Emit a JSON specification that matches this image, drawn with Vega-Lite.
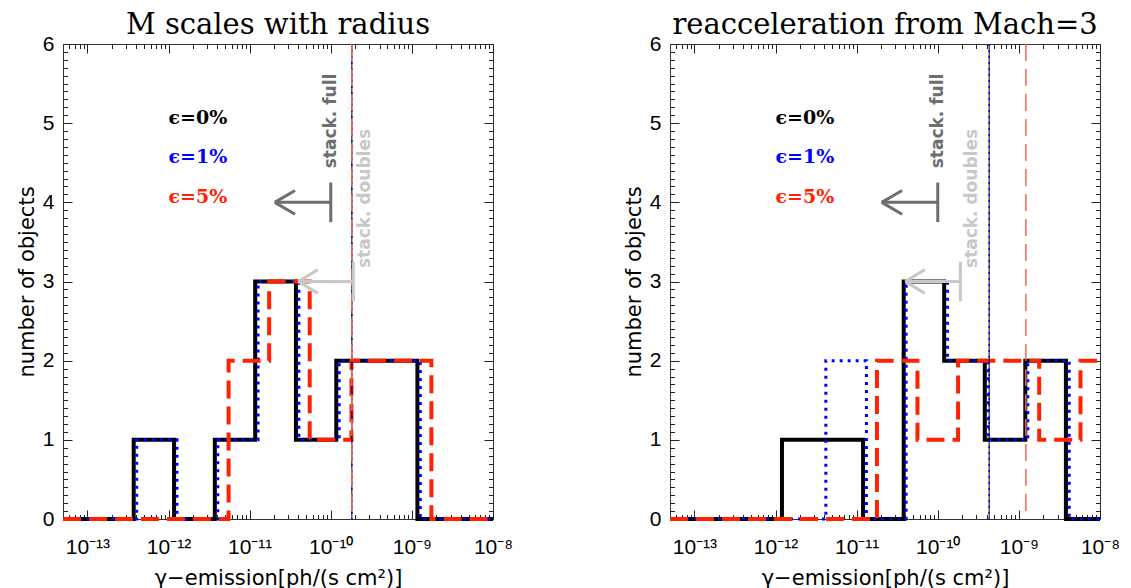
{
  "$schema": "https://vega.github.io/schema/vega-lite/v6.json",
  "background": "white",
  "padding": {"left": 15, "top": 10, "right": 5, "bottom": 2},
  "config": {
    "view": {"stroke": "#333333", "strokeWidth": 1},
    "axis": {"grid": false, "domain": false, "tickColor": "#222222", "tickWidth": 1,
      "labelFont": "Liberation Sans", "labelFontSize": 21, "labelColor": "#000000",
      "titleFont": "DejaVu Sans", "titleFontSize": 21, "titleFontWeight": "normal", "titleColor": "#000000",
      "labelFlush": false, "labelBound": false, "minExtent": 0}
  },
  "datasets": {
    "hist": [
      {"panel": "L", "series": "e0", "flux": 5e-14, "n": 0},
      {"panel": "L", "series": "e0", "flux": 3.72e-13, "n": 1},
      {"panel": "L", "series": "e0", "flux": 1.17e-12, "n": 0},
      {"panel": "L", "series": "e0", "flux": 3.72e-12, "n": 1},
      {"panel": "L", "series": "e0", "flux": 1.17e-11, "n": 3},
      {"panel": "L", "series": "e0", "flux": 3.72e-11, "n": 1},
      {"panel": "L", "series": "e0", "flux": 1.17e-10, "n": 2},
      {"panel": "L", "series": "e0", "flux": 1.17e-9, "n": 0},
      {"panel": "L", "series": "e0", "flux": 1e-8, "n": 0},
      {"panel": "L", "series": "e1", "flux": 5e-14, "n": 0},
      {"panel": "L", "series": "e1", "flux": 4.05e-13, "n": 1},
      {"panel": "L", "series": "e1", "flux": 1.27e-12, "n": 0},
      {"panel": "L", "series": "e1", "flux": 4.05e-12, "n": 1},
      {"panel": "L", "series": "e1", "flux": 1.27e-11, "n": 3},
      {"panel": "L", "series": "e1", "flux": 4.05e-11, "n": 1},
      {"panel": "L", "series": "e1", "flux": 1.27e-10, "n": 2},
      {"panel": "L", "series": "e1", "flux": 1.27e-9, "n": 0},
      {"panel": "L", "series": "e1", "flux": 1e-8, "n": 0},
      {"panel": "L", "series": "e5", "flux": 5e-14, "n": 0},
      {"panel": "L", "series": "e5", "flux": 5.5e-12, "n": 2},
      {"panel": "L", "series": "e5", "flux": 1.74e-11, "n": 3},
      {"panel": "L", "series": "e5", "flux": 5.5e-11, "n": 1},
      {"panel": "L", "series": "e5", "flux": 1.8e-10, "n": 2},
      {"panel": "L", "series": "e5", "flux": 1.74e-9, "n": 0},
      {"panel": "L", "series": "e5", "flux": 1e-8, "n": 0},
      {"panel": "R", "series": "e0", "flux": 5e-14, "n": 0},
      {"panel": "R", "series": "e0", "flux": 1.2e-12, "n": 1},
      {"panel": "R", "series": "e0", "flux": 1.2e-11, "n": 0},
      {"panel": "R", "series": "e0", "flux": 3.8e-11, "n": 3},
      {"panel": "R", "series": "e0", "flux": 1.2e-10, "n": 2},
      {"panel": "R", "series": "e0", "flux": 3.8e-10, "n": 1},
      {"panel": "R", "series": "e0", "flux": 1.2e-9, "n": 2},
      {"panel": "R", "series": "e0", "flux": 3.8e-9, "n": 0},
      {"panel": "R", "series": "e0", "flux": 1e-8, "n": 0},
      {"panel": "R", "series": "e1", "flux": 5e-14, "n": 0},
      {"panel": "R", "series": "e1", "flux": 4.17e-12, "n": 2},
      {"panel": "R", "series": "e1", "flux": 1.32e-11, "n": 0},
      {"panel": "R", "series": "e1", "flux": 4.07e-11, "n": 3},
      {"panel": "R", "series": "e1", "flux": 1.32e-10, "n": 2},
      {"panel": "R", "series": "e1", "flux": 4.17e-10, "n": 1},
      {"panel": "R", "series": "e1", "flux": 1.29e-9, "n": 2},
      {"panel": "R", "series": "e1", "flux": 4.17e-9, "n": 0},
      {"panel": "R", "series": "e1", "flux": 1e-8, "n": 0},
      {"panel": "R", "series": "e5", "flux": 5e-14, "n": 0},
      {"panel": "R", "series": "e5", "flux": 1.78e-11, "n": 2},
      {"panel": "R", "series": "e5", "flux": 5.62e-11, "n": 1},
      {"panel": "R", "series": "e5", "flux": 1.78e-10, "n": 2},
      {"panel": "R", "series": "e5", "flux": 1.78e-9, "n": 1},
      {"panel": "R", "series": "e5", "flux": 5.75e-9, "n": 2},
      {"panel": "R", "series": "e5", "flux": 1e-8, "n": 2}
    ],
    "vlines": [
      {"panel": "L", "series": "e0", "flux": 1.82e-10},
      {"panel": "L", "series": "e1", "flux": 1.82e-10},
      {"panel": "L", "series": "e5", "flux": 1.82e-10},
      {"panel": "R", "series": "e0", "flux": 4.3e-10},
      {"panel": "R", "series": "e1", "flux": 4.3e-10},
      {"panel": "R", "series": "e5", "flux": 1.22e-9}
    ],
    "arrows": [
      {"kind": "full", "flux": 2.04e-11, "flux2": 1e-10, "n": 4, "n2": 4},
      {"kind": "full", "flux": 1e-10, "flux2": 1e-10, "n": 3.75, "n2": 4.25},
      {"kind": "full", "flux": 2.04e-11, "flux2": 3.63e-11, "n": 4, "n2": 4.15},
      {"kind": "full", "flux": 2.04e-11, "flux2": 3.63e-11, "n": 4, "n2": 3.85},
      {"kind": "doubles", "flux": 3.98e-11, "flux2": 1.9e-10, "n": 3, "n2": 3},
      {"kind": "doubles", "flux": 1.9e-10, "flux2": 1.9e-10, "n": 2.75, "n2": 3.25},
      {"kind": "doubles", "flux": 3.98e-11, "flux2": 6.92e-11, "n": 3, "n2": 3.15},
      {"kind": "doubles", "flux": 3.98e-11, "flux2": 6.92e-11, "n": 3, "n2": 2.85}
    ],
    "stacklabels": [
      {"kind": "full", "label": "stack. full", "flux": 1e-10, "n": 4.43},
      {"kind": "doubles", "label": "stack. doubles", "flux": 2.68e-10, "n": 3.17}
    ],
    "legend": [
      {"series": "e0", "label": "ϵ=0%", "flux": 1e-12, "n": 5.07},
      {"series": "e1", "label": "ϵ=1%", "flux": 1e-12, "n": 4.57},
      {"series": "e5", "label": "ϵ=5%", "flux": 1e-12, "n": 4.07}
    ]
  },
  "hconcat": [
    {
      "width": 430, "height": 475,
      "title": {"text": "M scales with radius", "font": "DejaVu Serif", "fontSize": 29, "fontWeight": "normal", "color": "#000000", "anchor": "middle", "baseline": "alphabetic", "offset": -30},
      "resolve": {"axis": {"x": "independent", "y": "independent"}},
      "layer": [
        {"layer": [
          {"data": {"name": "hist"}, "transform": [{"filter": "datum.panel == 'L' && datum.series == 'e0'"}],
           "mark": {"type": "line", "interpolate": "step-after", "color": "#000000", "strokeWidth": 4, "strokeJoin": "miter"},
           "encoding": {
             "x": {"field": "flux", "type": "quantitative", "scale": {"type": "log", "domain": [5e-14, 1e-8], "nice": false},
               "axis": {"orient": "bottom", "title": "γ−emission[ph/(s cm²)]", "minExtent": 0,
                 "values": [6e-14,7e-14,8e-14,9e-14,1e-13,2e-13,3e-13,4e-13,5e-13,6e-13,7e-13,8e-13,9e-13,1e-12,2e-12,3e-12,4e-12,5e-12,6e-12,7e-12,8e-12,9e-12,1e-11,2e-11,3e-11,4e-11,5e-11,6e-11,7e-11,8e-11,9e-11,1e-10,2e-10,3e-10,4e-10,5e-10,6e-10,7e-10,8e-10,9e-10,1e-9,2e-9,3e-9,4e-9,5e-9,6e-9,7e-9,8e-9,9e-9,1e-8],
                 "tickSize": {"condition": {"test": "abs(log(datum.value)/LN10 - round(log(datum.value)/LN10)) < 0.01", "value": -9}, "value": -4.5},
                 "labelExpr": "abs(log(datum.value)/LN10 - round(log(datum.value)/LN10)) > 0.01 ? '' : round(log(datum.value)/LN10) == -13 ? '10⁻¹³' : round(log(datum.value)/LN10) == -12 ? '10⁻¹²' : round(log(datum.value)/LN10) == -11 ? '10⁻¹¹' : round(log(datum.value)/LN10) == -10 ? '10⁻¹⁰' : round(log(datum.value)/LN10) == -9 ? '10⁻⁹' : '10⁻⁸'",
                 "labelPadding": 26, "titlePadding": 10}},
             "y": {"field": "n", "type": "quantitative", "scale": {"domain": [0, 6], "nice": false, "zero": false},
               "axis": {"orient": "left", "title": "number of objects", "minExtent": 0, "ticks": false,
                 "values": [0, 1, 2, 3, 4, 5, 6], "format": "d",
                 "labelPadding": 9, "titlePadding": 5}}
           }},
          {"data": {"name": "hist"}, "transform": [{"filter": "datum.panel == 'L' && datum.series == 'e1'"}],
           "mark": {"type": "line", "interpolate": "step-after", "color": "#0000ff", "strokeWidth": 3, "strokeDash": [3, 5]},
           "encoding": {"x": {"field": "flux", "type": "quantitative"}, "y": {"field": "n", "type": "quantitative"}}},
          {"data": {"name": "hist"}, "transform": [{"filter": "datum.panel == 'L' && datum.series == 'e5'"}],
           "mark": {"type": "line", "interpolate": "step-after", "color": "#ff2200", "strokeWidth": 4, "strokeDash": [18, 8]},
           "encoding": {"x": {"field": "flux", "type": "quantitative"}, "y": {"field": "n", "type": "quantitative"}}},
          {"data": {"name": "vlines"}, "transform": [{"filter": "datum.panel == 'L' && datum.series == 'e0'"}],
           "mark": {"type": "rule", "color": "#000000", "strokeWidth": 1},
           "encoding": {"x": {"field": "flux", "type": "quantitative"}}},
          {"data": {"name": "vlines"}, "transform": [{"filter": "datum.panel == 'L' && datum.series == 'e1'"}],
           "mark": {"type": "rule", "color": "#0000ff", "strokeWidth": 1.5, "strokeDash": [2, 4]},
           "encoding": {"x": {"field": "flux", "type": "quantitative"}}},
          {"data": {"name": "vlines"}, "transform": [{"filter": "datum.panel == 'L' && datum.series == 'e5'"}],
           "mark": {"type": "rule", "color": "#f26a55", "strokeWidth": 1.5, "strokeDash": [17, 8]},
           "encoding": {"x": {"field": "flux", "type": "quantitative"}}},
          {"data": {"name": "arrows"}, "transform": [{"filter": "datum.kind == 'full'"}],
           "mark": {"type": "rule", "color": "#6e6e6e", "strokeWidth": 3},
           "encoding": {"x": {"field": "flux", "type": "quantitative"}, "x2": {"field": "flux2"}, "y": {"field": "n", "type": "quantitative"}, "y2": {"field": "n2"}}},
          {"data": {"name": "arrows"}, "transform": [{"filter": "datum.kind == 'doubles'"}],
           "mark": {"type": "rule", "color": "#c8c8c8", "strokeWidth": 3},
           "encoding": {"x": {"field": "flux", "type": "quantitative"}, "x2": {"field": "flux2"}, "y": {"field": "n", "type": "quantitative"}, "y2": {"field": "n2"}}},
          {"data": {"name": "stacklabels"}, "transform": [{"filter": "datum.kind == 'full'"}],
           "mark": {"type": "text", "angle": 270, "align": "left", "baseline": "middle", "font": "DejaVu Sans", "fontWeight": "bold", "fontSize": 17, "color": "#6e6e6e"},
           "encoding": {"x": {"field": "flux", "type": "quantitative"}, "y": {"field": "n", "type": "quantitative"}, "text": {"field": "label"}}},
          {"data": {"name": "stacklabels"}, "transform": [{"filter": "datum.kind == 'doubles'"}],
           "mark": {"type": "text", "angle": 270, "align": "left", "baseline": "middle", "font": "DejaVu Sans", "fontWeight": "bold", "fontSize": 17, "color": "#c8c8c8"},
           "encoding": {"x": {"field": "flux", "type": "quantitative"}, "y": {"field": "n", "type": "quantitative"}, "text": {"field": "label"}}},
          {"data": {"name": "legend"},
           "mark": {"type": "text", "align": "left", "baseline": "middle", "font": "DejaVu Serif", "fontWeight": "bold", "fontSize": 19},
           "encoding": {"x": {"field": "flux", "type": "quantitative"}, "y": {"field": "n", "type": "quantitative"}, "text": {"field": "label"},
             "color": {"field": "series", "type": "nominal", "scale": {"domain": ["e0", "e1", "e5"], "range": ["#000000", "#0000ff", "#ff2200"]}, "legend": null}}}
        ]},
        {"data": {"name": "hist"}, "transform": [{"filter": "datum.panel == 'L'"}],
         "mark": {"type": "point", "opacity": 0},
         "encoding": {
           "x": {"field": "flux", "type": "quantitative", "scale": {"type": "log", "domain": [5e-14, 1e-8], "nice": false},
             "axis": {"orient": "top", "title": null, "labels": false, "minExtent": 0,
               "values": [6e-14,7e-14,8e-14,9e-14,1e-13,2e-13,3e-13,4e-13,5e-13,6e-13,7e-13,8e-13,9e-13,1e-12,2e-12,3e-12,4e-12,5e-12,6e-12,7e-12,8e-12,9e-12,1e-11,2e-11,3e-11,4e-11,5e-11,6e-11,7e-11,8e-11,9e-11,1e-10,2e-10,3e-10,4e-10,5e-10,6e-10,7e-10,8e-10,9e-10,1e-9,2e-9,3e-9,4e-9,5e-9,6e-9,7e-9,8e-9,9e-9,1e-8],
               "tickSize": {"condition": {"test": "abs(log(datum.value)/LN10 - round(log(datum.value)/LN10)) < 0.01", "value": -9}, "value": -4.5}}},
           "y": {"field": "n", "type": "quantitative", "scale": {"domain": [0, 6], "nice": false, "zero": false},
             "axis": {"orient": "right", "title": null, "labels": false, "minExtent": 0,
               "values": [0,0.1,0.2,0.3,0.4,0.5,0.6,0.7,0.8,0.9,1,1.1,1.2,1.3,1.4,1.5,1.6,1.7,1.8,1.9,2,2.1,2.2,2.3,2.4,2.5,2.6,2.7,2.8,2.9,3,3.1,3.2,3.3,3.4,3.5,3.6,3.7,3.8,3.9,4,4.1,4.2,4.3,4.4,4.5,4.6,4.7,4.8,4.9,5,5.1,5.2,5.3,5.4,5.5,5.6,5.7,5.8,5.9,6],
               "tickSize": {"condition": {"test": "abs(datum.value - round(datum.value)) < 0.01", "value": -9}, "value": -4.5}}}
         }},
        {"data": {"name": "hist"}, "transform": [{"filter": "datum.panel == 'L'"}],
         "mark": {"type": "point", "opacity": 0},
         "encoding": {
           "x": {"field": "flux", "type": "quantitative", "scale": {"type": "log", "domain": [5e-14, 1e-8], "nice": false}, "axis": null},
           "y": {"field": "n", "type": "quantitative", "scale": {"domain": [0, 6], "nice": false, "zero": false},
             "axis": {"orient": "left", "title": null, "labels": false, "minExtent": 0,
               "values": [0,0.1,0.2,0.3,0.4,0.5,0.6,0.7,0.8,0.9,1,1.1,1.2,1.3,1.4,1.5,1.6,1.7,1.8,1.9,2,2.1,2.2,2.3,2.4,2.5,2.6,2.7,2.8,2.9,3,3.1,3.2,3.3,3.4,3.5,3.6,3.7,3.8,3.9,4,4.1,4.2,4.3,4.4,4.5,4.6,4.7,4.8,4.9,5,5.1,5.2,5.3,5.4,5.5,5.6,5.7,5.8,5.9,6],
               "tickSize": {"condition": {"test": "abs(datum.value - round(datum.value)) < 0.01", "value": -9}, "value": -4.5}}}
         }}
      ]
    },
    {
      "width": 430, "height": 475,
      "title": {"text": "reacceleration from Mach=3", "font": "DejaVu Serif", "fontSize": 29, "fontWeight": "normal", "color": "#000000", "anchor": "middle", "baseline": "alphabetic", "offset": -30},
      "resolve": {"axis": {"x": "independent", "y": "independent"}},
      "layer": [
        {"layer": [
          {"data": {"name": "hist"}, "transform": [{"filter": "datum.panel == 'R' && datum.series == 'e0'"}],
           "mark": {"type": "line", "interpolate": "step-after", "color": "#000000", "strokeWidth": 4, "strokeJoin": "miter"},
           "encoding": {
             "x": {"field": "flux", "type": "quantitative", "scale": {"type": "log", "domain": [5e-14, 1e-8], "nice": false},
               "axis": {"orient": "bottom", "title": "γ−emission[ph/(s cm²)]", "minExtent": 0,
                 "values": [6e-14,7e-14,8e-14,9e-14,1e-13,2e-13,3e-13,4e-13,5e-13,6e-13,7e-13,8e-13,9e-13,1e-12,2e-12,3e-12,4e-12,5e-12,6e-12,7e-12,8e-12,9e-12,1e-11,2e-11,3e-11,4e-11,5e-11,6e-11,7e-11,8e-11,9e-11,1e-10,2e-10,3e-10,4e-10,5e-10,6e-10,7e-10,8e-10,9e-10,1e-9,2e-9,3e-9,4e-9,5e-9,6e-9,7e-9,8e-9,9e-9,1e-8],
                 "tickSize": {"condition": {"test": "abs(log(datum.value)/LN10 - round(log(datum.value)/LN10)) < 0.01", "value": -9}, "value": -4.5},
                 "labelExpr": "abs(log(datum.value)/LN10 - round(log(datum.value)/LN10)) > 0.01 ? '' : round(log(datum.value)/LN10) == -13 ? '10⁻¹³' : round(log(datum.value)/LN10) == -12 ? '10⁻¹²' : round(log(datum.value)/LN10) == -11 ? '10⁻¹¹' : round(log(datum.value)/LN10) == -10 ? '10⁻¹⁰' : round(log(datum.value)/LN10) == -9 ? '10⁻⁹' : '10⁻⁸'",
                 "labelPadding": 26, "titlePadding": 10}},
             "y": {"field": "n", "type": "quantitative", "scale": {"domain": [0, 6], "nice": false, "zero": false},
               "axis": {"orient": "left", "title": "number of objects", "minExtent": 0, "ticks": false,
                 "values": [0, 1, 2, 3, 4, 5, 6], "format": "d",
                 "labelPadding": 9, "titlePadding": 5}}
           }},
          {"data": {"name": "hist"}, "transform": [{"filter": "datum.panel == 'R' && datum.series == 'e1'"}],
           "mark": {"type": "line", "interpolate": "step-after", "color": "#0000ff", "strokeWidth": 3, "strokeDash": [3, 5]},
           "encoding": {"x": {"field": "flux", "type": "quantitative"}, "y": {"field": "n", "type": "quantitative"}}},
          {"data": {"name": "hist"}, "transform": [{"filter": "datum.panel == 'R' && datum.series == 'e5'"}],
           "mark": {"type": "line", "interpolate": "step-after", "color": "#ff2200", "strokeWidth": 4, "strokeDash": [18, 8]},
           "encoding": {"x": {"field": "flux", "type": "quantitative"}, "y": {"field": "n", "type": "quantitative"}}},
          {"data": {"name": "vlines"}, "transform": [{"filter": "datum.panel == 'R' && datum.series == 'e0'"}],
           "mark": {"type": "rule", "color": "#000000", "strokeWidth": 1},
           "encoding": {"x": {"field": "flux", "type": "quantitative"}}},
          {"data": {"name": "vlines"}, "transform": [{"filter": "datum.panel == 'R' && datum.series == 'e1'"}],
           "mark": {"type": "rule", "color": "#0000ff", "strokeWidth": 1.5, "strokeDash": [2, 4]},
           "encoding": {"x": {"field": "flux", "type": "quantitative"}}},
          {"data": {"name": "vlines"}, "transform": [{"filter": "datum.panel == 'R' && datum.series == 'e5'"}],
           "mark": {"type": "rule", "color": "#f26a55", "strokeWidth": 1.5, "strokeDash": [17, 8]},
           "encoding": {"x": {"field": "flux", "type": "quantitative"}}},
          {"data": {"name": "arrows"}, "transform": [{"filter": "datum.kind == 'full'"}],
           "mark": {"type": "rule", "color": "#6e6e6e", "strokeWidth": 3},
           "encoding": {"x": {"field": "flux", "type": "quantitative"}, "x2": {"field": "flux2"}, "y": {"field": "n", "type": "quantitative"}, "y2": {"field": "n2"}}},
          {"data": {"name": "arrows"}, "transform": [{"filter": "datum.kind == 'doubles'"}],
           "mark": {"type": "rule", "color": "#c8c8c8", "strokeWidth": 3},
           "encoding": {"x": {"field": "flux", "type": "quantitative"}, "x2": {"field": "flux2"}, "y": {"field": "n", "type": "quantitative"}, "y2": {"field": "n2"}}},
          {"data": {"name": "stacklabels"}, "transform": [{"filter": "datum.kind == 'full'"}],
           "mark": {"type": "text", "angle": 270, "align": "left", "baseline": "middle", "font": "DejaVu Sans", "fontWeight": "bold", "fontSize": 17, "color": "#6e6e6e"},
           "encoding": {"x": {"field": "flux", "type": "quantitative"}, "y": {"field": "n", "type": "quantitative"}, "text": {"field": "label"}}},
          {"data": {"name": "stacklabels"}, "transform": [{"filter": "datum.kind == 'doubles'"}],
           "mark": {"type": "text", "angle": 270, "align": "left", "baseline": "middle", "font": "DejaVu Sans", "fontWeight": "bold", "fontSize": 17, "color": "#c8c8c8"},
           "encoding": {"x": {"field": "flux", "type": "quantitative"}, "y": {"field": "n", "type": "quantitative"}, "text": {"field": "label"}}},
          {"data": {"name": "legend"},
           "mark": {"type": "text", "align": "left", "baseline": "middle", "font": "DejaVu Serif", "fontWeight": "bold", "fontSize": 19},
           "encoding": {"x": {"field": "flux", "type": "quantitative"}, "y": {"field": "n", "type": "quantitative"}, "text": {"field": "label"},
             "color": {"field": "series", "type": "nominal", "scale": {"domain": ["e0", "e1", "e5"], "range": ["#000000", "#0000ff", "#ff2200"]}, "legend": null}}}
        ]},
        {"data": {"name": "hist"}, "transform": [{"filter": "datum.panel == 'R'"}],
         "mark": {"type": "point", "opacity": 0},
         "encoding": {
           "x": {"field": "flux", "type": "quantitative", "scale": {"type": "log", "domain": [5e-14, 1e-8], "nice": false},
             "axis": {"orient": "top", "title": null, "labels": false, "minExtent": 0,
               "values": [6e-14,7e-14,8e-14,9e-14,1e-13,2e-13,3e-13,4e-13,5e-13,6e-13,7e-13,8e-13,9e-13,1e-12,2e-12,3e-12,4e-12,5e-12,6e-12,7e-12,8e-12,9e-12,1e-11,2e-11,3e-11,4e-11,5e-11,6e-11,7e-11,8e-11,9e-11,1e-10,2e-10,3e-10,4e-10,5e-10,6e-10,7e-10,8e-10,9e-10,1e-9,2e-9,3e-9,4e-9,5e-9,6e-9,7e-9,8e-9,9e-9,1e-8],
               "tickSize": {"condition": {"test": "abs(log(datum.value)/LN10 - round(log(datum.value)/LN10)) < 0.01", "value": -9}, "value": -4.5}}},
           "y": {"field": "n", "type": "quantitative", "scale": {"domain": [0, 6], "nice": false, "zero": false},
             "axis": {"orient": "right", "title": null, "labels": false, "minExtent": 0,
               "values": [0,0.1,0.2,0.3,0.4,0.5,0.6,0.7,0.8,0.9,1,1.1,1.2,1.3,1.4,1.5,1.6,1.7,1.8,1.9,2,2.1,2.2,2.3,2.4,2.5,2.6,2.7,2.8,2.9,3,3.1,3.2,3.3,3.4,3.5,3.6,3.7,3.8,3.9,4,4.1,4.2,4.3,4.4,4.5,4.6,4.7,4.8,4.9,5,5.1,5.2,5.3,5.4,5.5,5.6,5.7,5.8,5.9,6],
               "tickSize": {"condition": {"test": "abs(datum.value - round(datum.value)) < 0.01", "value": -9}, "value": -4.5}}}
         }},
        {"data": {"name": "hist"}, "transform": [{"filter": "datum.panel == 'R'"}],
         "mark": {"type": "point", "opacity": 0},
         "encoding": {
           "x": {"field": "flux", "type": "quantitative", "scale": {"type": "log", "domain": [5e-14, 1e-8], "nice": false}, "axis": null},
           "y": {"field": "n", "type": "quantitative", "scale": {"domain": [0, 6], "nice": false, "zero": false},
             "axis": {"orient": "left", "title": null, "labels": false, "minExtent": 0,
               "values": [0,0.1,0.2,0.3,0.4,0.5,0.6,0.7,0.8,0.9,1,1.1,1.2,1.3,1.4,1.5,1.6,1.7,1.8,1.9,2,2.1,2.2,2.3,2.4,2.5,2.6,2.7,2.8,2.9,3,3.1,3.2,3.3,3.4,3.5,3.6,3.7,3.8,3.9,4,4.1,4.2,4.3,4.4,4.5,4.6,4.7,4.8,4.9,5,5.1,5.2,5.3,5.4,5.5,5.6,5.7,5.8,5.9,6],
               "tickSize": {"condition": {"test": "abs(datum.value - round(datum.value)) < 0.01", "value": -9}, "value": -4.5}}}
         }}
      ]
    }
  ],
  "spacing": 177,
  "bounds": "flush"
}
